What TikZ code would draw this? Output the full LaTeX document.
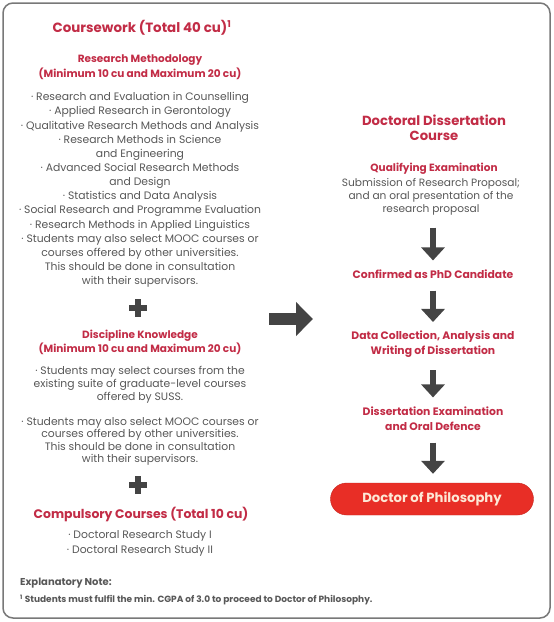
\documentclass[tikz,border=0pt]{standalone}
\usepackage{fontspec}
\setmainfont{Poppins}
\usetikzlibrary{arrows.meta,positioning}

\definecolor{headred}{RGB}{194,44,70}
\definecolor{textgray}{RGB}{88,88,88}
\definecolor{arrowgray}{RGB}{68,68,68}
\definecolor{pillred}{RGB}{232,46,38}
\definecolor{pillcream}{RGB}{253,232,214}
\definecolor{framegray}{RGB}{120,120,120}

\begin{document}
\begin{tikzpicture}[
  x=1pt,y=-1pt,
  head/.style={text=headred, font=\fontsize{13.4}{15}\selectfont\bfseries, align=center, inner sep=0pt},
  sub/.style={text=headred, font=\fontsize{10.5}{14.5}\selectfont\bfseries, align=center, inner sep=0pt},
  body/.style={text=textgray, font=\fontsize{10.8}{14.15}\selectfont, align=center, inner sep=0pt},
  note/.style={text=textgray, font=\fontsize{9}{10}\selectfont\bfseries, anchor=west, inner sep=0pt},
  pill/.style={fill=pillred, draw=pillred!85!black, rounded corners=16pt, minimum width=203pt, minimum height=32pt, text=pillcream, font=\fontsize{13.2}{14}\selectfont\bfseries},
  dnarr/.style={-{Triangle[length=13pt,width=23pt]}, line width=6pt, draw=arrowgray, shorten <=12pt, shorten >=9pt},
  bigarr/.style={-{Triangle[length=17pt,width=33pt]}, line width=12pt, draw=arrowgray}
]
\useasboundingbox[fill=white] (0,0) rectangle (554,622);
\draw[framegray, line width=1.5pt, rounded corners=10pt] (3,3) rectangle (550,618);

% left column: coursework
\node[head] (cw) at (142,28) {Coursework (Total 40 cu)\textsuperscript{1}};
\node[sub] (rm) at (140,67) {Research Methodology\\(Minimum 10 cu and Maximum 20 cu)};
\node[body] (rmlist) at (140,190) {· Research and Evaluation in Counselling\\
  · Applied Research in Gerontology\\
  · Qualitative Research Methods and Analysis\\
  · Research Methods in Science\\and Engineering\\
  · Advanced Social Research Methods\\and Design\\
  · Statistics and Data Analysis\\
  · Social Research and Programme Evaluation\\
  · Research Methods in Applied Linguistics\\
  · Students may also select MOOC courses or\\courses offered by other universities.\\
  This should be done in consultation\\with their supervisors.};
\fill[arrowgray] (129,305) rectangle (147,311);
\fill[arrowgray] (135,299) rectangle (141,317);
\node[sub] (dk) at (140,342.5) {Discipline Knowledge\\(Minimum 10 cu and Maximum 20 cu)};
\node[body, font=\fontsize{10.8}{13}\selectfont] (dk1) at (140,385) {· Students may select courses from the\\existing suite of graduate-level courses\\offered by SUSS.};
\node[body, font=\fontsize{10.8}{12.5}\selectfont] (dk2) at (140,441.5) {· Students may also select MOOC courses or\\courses offered by other universities.\\This should be done in consultation\\with their supervisors.};
\fill[arrowgray] (129,482) rectangle (147,488);
\fill[arrowgray] (135,476) rectangle (141,494);
\node[head, font=\fontsize{12.4}{15}\selectfont\bfseries] (cc) at (141,514) {Compulsory Courses (Total 10 cu)};
\node[body, font=\fontsize{10.8}{15}\selectfont] (cclist) at (140,543.5) {· Doctoral Research Study I\\· Doctoral Research Study II};
\node[note, font=\fontsize{10}{10}\selectfont\bfseries] (expl) at (20,583) {Explanatory Note:};
\node[note] (fn) at (20,600) {\textsuperscript{1} Students must fulfil the min. CGPA of 3.0 to proceed to Doctor of Philosophy.};

% link to the right column
\coordinate (ra) at (269,319);
\coordinate (rb) at (313,319);
\draw[bigarr] (ra) -- (rb);

% right column: dissertation
\node[head, font=\fontsize{13.2}{15}\selectfont\bfseries] (ddc) at (434,128) {Doctoral Dissertation\\Course};
\node[sub] (qe) at (434,169) {Qualifying Examination};
\node[body, font=\fontsize{10.6}{13}\selectfont] (subm) at (431,197) {Submission of Research Proposal;\\and an oral presentation of the\\research proposal};
\node[sub, font=\fontsize{10.8}{15}\selectfont\bfseries] (conf) at (433,274) {Confirmed as PhD Candidate};
\node[sub, font=\fontsize{10.8}{15}\selectfont\bfseries] (data) at (433,344.5) {Data Collection, Analysis and\\Writing of Dissertation};
\node[sub, font=\fontsize{10.8}{15}\selectfont\bfseries] (exam) at (433,418.5) {Dissertation Examination\\and Oral Defence};
\node[pill] (phd) at (432,499) {Doctor of Philosophy};
\draw[dnarr] (subm.south -| exam.south) -- (conf.north -| exam.south);
\draw[dnarr] (conf.south -| exam.south) -- (data.north -| exam.south);
\draw[dnarr] (data) -- (exam);
\draw[dnarr] (exam) -- (phd.north -| exam.south);
\end{tikzpicture}
\end{document}
